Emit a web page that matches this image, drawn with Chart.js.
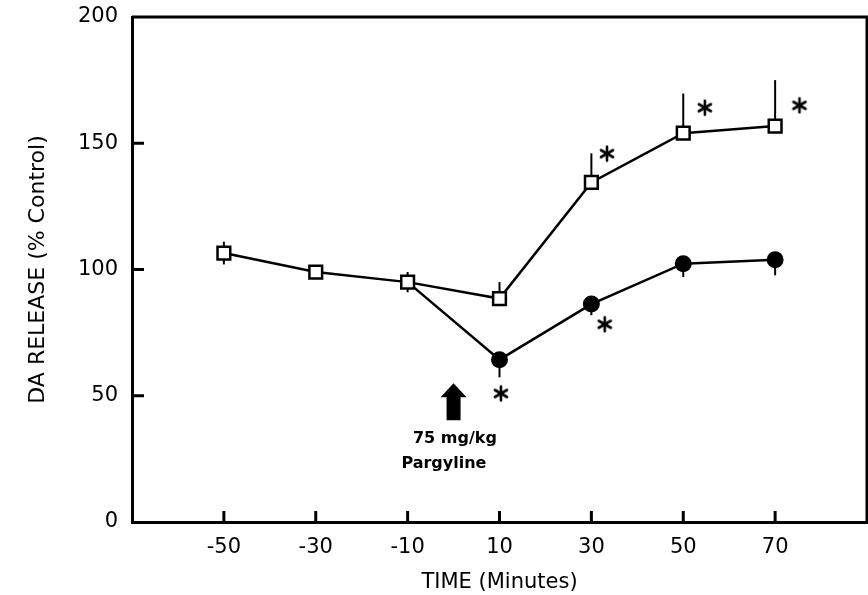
<!DOCTYPE html>
<html>
<head>
<meta charset="utf-8">
<script src="https://cdn.jsdelivr.net/npm/chart.js@4.4.1/dist/chart.umd.min.js"></script>
<style>
  html, body { margin: 0; padding: 0; background: #fff; }
  #wrap { width: 868px; height: 595px; }
</style>
</head>
<body>
<div id="wrap"><canvas id="chart" width="868" height="595"></canvas></div>
<script>
// time points (minutes) and tick labels
const times = [-50, -30, -10, 10, 30, 50, 70];
const xTicks = [-50, -30, -10, 10, 30, 50, 70];
const yTicks = [0, 50, 100, 150, 200];

// open squares
const squareVals = [106.5, 99, 95, 88.5, 134.5, 154, 156.8];
const squareErrUp = [4.5, 0, 4, 6.5, 11.5, 15.7, 18.2];
const squareErrDown = [4.5, 0, 4, 0, 0, 0, 0];

// filled circles (starts from the shared -10 point)
const circleTimes = [-10, 10, 30, 50, 70];
const circleVals = [95, 64.3, 86.3, 102.3, 103.9];
const circleErrDown = [0, 7, 4.4, 5.3, 6.2];

// significance asterisks
const starX = [10.3, 32.9, 33.4, 54.7, 75.3];
const starY = [50.9, 78.3, 145.9, 164.1, 165];

// injection arrow + label
const arrowX = 0;
const arrowTop = 55;
const arrowBottom = 40.3;
const doseText = '75 mg/kg';
const drugText = 'Pargyline';
const doseY = 32.8;
const drugY = 23.2;

const FONT = '"DejaVu Sans", sans-serif';

// asterisk marker
function makeStar() {
    const c = document.createElement('canvas');
    c.width = 18; c.height = 18;
    const g = c.getContext('2d');
    g.strokeStyle = '#000';
    g.lineWidth = 2.6;
    g.lineCap = 'round';
    [90, 30, 150].forEach(a => {
        const r = a * Math.PI / 180;
        const dx = Math.cos(r) * 7, dy = Math.sin(r) * 7;
        g.beginPath();
        g.moveTo(9 - dx, 9 - dy);
        g.lineTo(9 + dx, 9 + dy);
        g.stroke();
    });
    return c;
}

const decor = {
    id: 'decor',
    beforeDatasetsDraw(chart) {
        const { ctx, scales: { x, y } } = chart;
        ctx.save();
        ctx.strokeStyle = '#000';
        ctx.lineWidth = 2;
        // error bars
        times.forEach((t, i) => {
            const px = x.getPixelForValue(t);
            if (squareErrUp[i]) {
                ctx.beginPath();
                ctx.moveTo(px, y.getPixelForValue(squareVals[i]));
                ctx.lineTo(px, y.getPixelForValue(squareVals[i] + squareErrUp[i]));
                ctx.stroke();
            }
            if (squareErrDown[i]) {
                ctx.beginPath();
                ctx.moveTo(px, y.getPixelForValue(squareVals[i]));
                ctx.lineTo(px, y.getPixelForValue(squareVals[i] - squareErrDown[i]));
                ctx.stroke();
            }
        });
        circleTimes.forEach((t, i) => {
            if (!circleErrDown[i]) return;
            const px = x.getPixelForValue(t);
            ctx.beginPath();
            ctx.moveTo(px, y.getPixelForValue(circleVals[i]));
            ctx.lineTo(px, y.getPixelForValue(circleVals[i] - circleErrDown[i]));
            ctx.stroke();
        });
        ctx.restore();
    },
    afterDraw(chart) {
        const { ctx, chartArea: a, scales: { x, y } } = chart;
        ctx.save();
        ctx.strokeStyle = '#000';
        ctx.lineWidth = 3;
        // frame top and right
        ctx.beginPath();
        ctx.moveTo(a.left, a.top);
        ctx.lineTo(a.right, a.top);
        ctx.lineTo(a.right, a.bottom);
        ctx.stroke();
        // inward ticks
        xTicks.forEach(v => {
            const px = x.getPixelForValue(v);
            ctx.beginPath();
            ctx.moveTo(px, a.bottom);
            ctx.lineTo(px, a.bottom - 11);
            ctx.stroke();
        });
        yTicks.slice(1, -1).forEach(v => {
            const py = y.getPixelForValue(v);
            ctx.beginPath();
            ctx.moveTo(a.left, py);
            ctx.lineTo(a.left + 12, py);
            ctx.stroke();
        });
        // arrow
        const ax = x.getPixelForValue(arrowX);
        const tip = y.getPixelForValue(arrowTop);
        const bot = y.getPixelForValue(arrowBottom);
        const headH = 14;
        ctx.fillStyle = '#000';
        ctx.beginPath();
        ctx.moveTo(ax, tip);
        ctx.lineTo(ax + 13, tip + headH);
        ctx.lineTo(ax + 7, tip + headH);
        ctx.lineTo(ax + 7, bot);
        ctx.lineTo(ax - 7, bot);
        ctx.lineTo(ax - 7, tip + headH);
        ctx.lineTo(ax - 13, tip + headH);
        ctx.closePath();
        ctx.fill();
        // label
        ctx.font = 'bold 16px ' + FONT;
        ctx.textAlign = 'center';
        ctx.textBaseline = 'middle';
        ctx.fillText(doseText, x.getPixelForValue(0.3), y.getPixelForValue(doseY));
        ctx.fillText(drugText, x.getPixelForValue(-2.1), y.getPixelForValue(drugY));
        ctx.restore();
    }
};

new Chart(document.getElementById('chart'), {
    type: 'scatter',
    data: {
        datasets: [
            {
                label: 'Circles',
                data: circleTimes.map((t, i) => ({ x: t, y: circleVals[i] })),
                showLine: true,
                borderColor: '#000',
                borderWidth: 2.5,
                backgroundColor: '#000',
                pointStyle: 'circle',
                pointRadius: circleTimes.map((t, i) => i === 0 ? 0 : 8.5),
                pointBorderWidth: 0,
                order: 2
            },
            {
                label: 'Squares',
                data: times.map((t, i) => ({ x: t, y: squareVals[i] })),
                showLine: true,
                borderColor: '#000',
                borderWidth: 2.5,
                backgroundColor: '#fff',
                pointStyle: 'rect',
                pointRadius: 9,
                pointBorderWidth: 2.5,
                order: 1
            },
            {
                label: 'Significance',
                data: starX.map((v, i) => ({ x: v, y: starY[i] })),
                showLine: false,
                pointStyle: makeStar(),
                order: 0
            }
        ]
    },
    options: {
        responsive: false,
        animation: false,
        layout: { autoPadding: false, padding: { top: 17, right: 1, left: 0, bottom: 0 } },
        plugins: {
            legend: { display: false },
            tooltip: { enabled: false }
        },
        scales: {
            x: {
                type: 'linear',
                min: -70,
                max: 90,
                afterBuildTicks: s => { s.ticks = xTicks.map(v => ({ value: v })); },
                afterFit: s => { s.height = 73; s.paddingLeft = 0; s.paddingRight = 0; },
                grid: { display: false, drawTicks: false },
                border: { display: true, color: '#000', width: 3 },
                ticks: {
                    color: '#000',
                    padding: 13,
                    font: { family: FONT, size: 21 },
                    callback: v => String(v)
                },
                title: {
                    display: true,
                    text: 'TIME (Minutes)',
                    color: '#000',
                    font: { family: FONT, size: 21 },
                    padding: { top: 0, bottom: 0 }
                }
            },
            y: {
                min: 0,
                max: 200,
                afterBuildTicks: s => { s.ticks = yTicks.map(v => ({ value: v })); },
                afterFit: s => { s.width = 132; s.paddingTop = 0; s.paddingBottom = 0; },
                grid: { display: false, drawTicks: false },
                border: { display: true, color: '#000', width: 3 },
                ticks: {
                    color: '#000',
                    padding: 14,
                    font: { family: FONT, size: 21 }
                },
                title: {
                    display: true,
                    text: 'DA RELEASE (% Control)',
                    color: '#000',
                    font: { family: FONT, size: 22 },
                    padding: { top: 25, bottom: 0 }
                }
            }
        }
    },
    plugins: [decor]
});
</script>
</body>
</html>
